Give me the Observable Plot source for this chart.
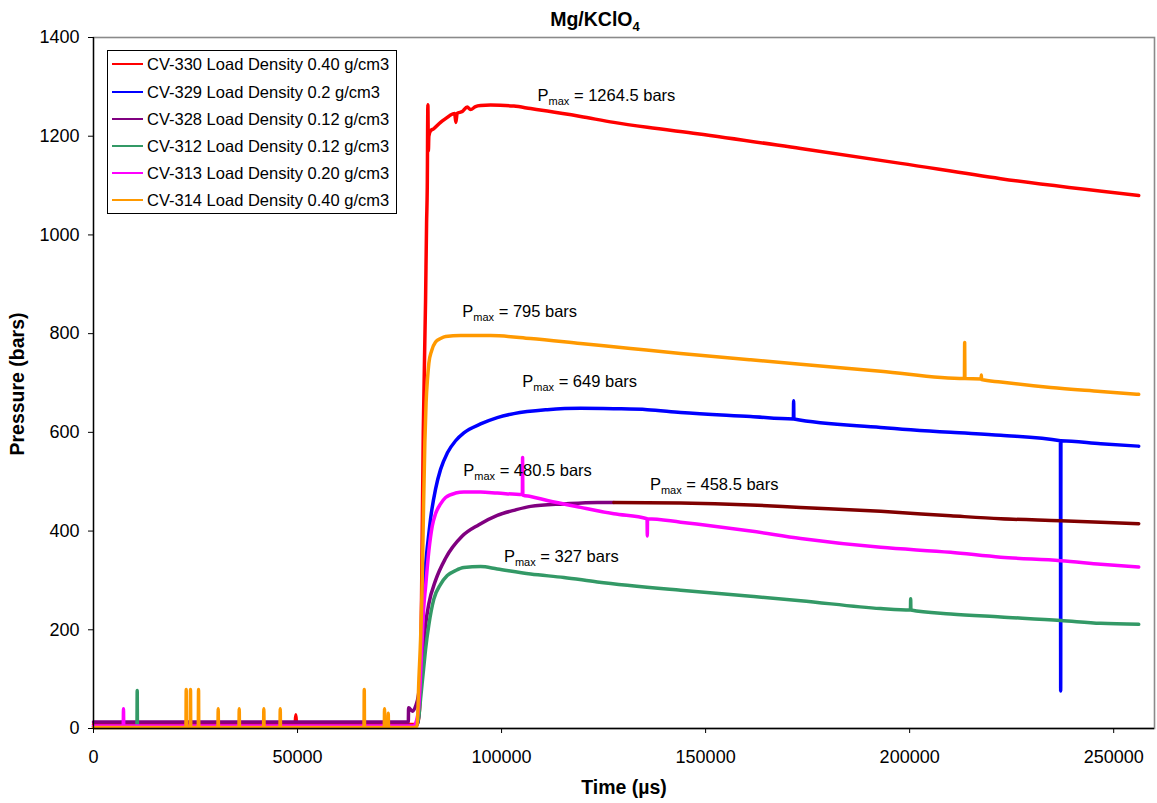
<!DOCTYPE html>
<html><head><meta charset="utf-8">
<script src="https://cdn.jsdelivr.net/npm/d3@7"></script>
<script src="https://cdn.jsdelivr.net/npm/@observablehq/plot@0.6"></script>
<style>
body{margin:0;background:#fff;font-family:"Liberation Sans",Arial,sans-serif;color:#000;}
#wrap{position:relative;width:1157px;height:803px;}
.ttl{position:absolute;font-weight:bold;font-size:19.5px;white-space:nowrap;line-height:1;}
#legend{position:absolute;left:107px;top:50px;width:290px;height:164px;border:1px solid #000;background:#fff;box-sizing:border-box;}
.row{position:absolute;left:0;height:20px;font-size:16.5px;line-height:20px;white-space:nowrap;}
.sw{position:absolute;left:4px;top:9px;width:31px;height:2px;}
.lbl{position:absolute;left:39px;top:0;}
</style></head>
<body>
<div id="wrap"></div>
<script>
const xTicks = [0, 50000, 100000, 150000, 200000, 250000];
const yTicks = [0, 200, 400, 600, 800, 1000, 1200, 1400];

const seriesNames = [
  "CV-330 Load Density 0.40 g/cm3",
  "CV-329 Load Density 0.2 g/cm3",
  "CV-328 Load Density 0.12 g/cm3",
  "CV-312 Load Density 0.12 g/cm3",
  "CV-313 Load Density 0.20 g/cm3",
  "CV-314 Load Density 0.40 g/cm3"
];
const seriesColors = ["#FF0000", "#0000FF", "#800080", "#339966", "#FF00FF", "#FF9900"];
const tailName = "CV-328 (continued)";
const tailColor = "#800000";

// [time (µs), pressure (bars)]
const cv330 = [[0,8],[49400,8],[49580,28],[49760,8],[79300,8],[79900,40],[80150,120],[80390,265],[80810,600],[81370,866],[81620,1023],[81790,1097],[81940,1264],[82060,1170],[82180,1200],[82600,1211],[83330,1215],[85050,1228],[86690,1238],[87500,1243],[88500,1246],[88800,1228],[89100,1246],[90370,1250],[91590,1259],[92400,1254],[93630,1260],[94850,1262],[97300,1263],[103010,1261],[107110,1256],[111200,1251],[119360,1240],[127510,1228],[135710,1218],[147970,1205],[173290,1175],[197800,1145],[222310,1114],[256130,1080]];
const cv329 = [[0,4],[78500,4],[79300,8],[79660,25],[80150,100],[80560,190],[80880,270],[81370,330],[82180,395],[82600,425],[83820,485],[85050,525],[86690,558],[88730,583],[90760,599],[94850,617],[98950,630],[103010,638],[111200,646],[119360,649],[127510,648],[135710,646],[143880,640],[161030,632],[171500,627],[171570,664],[171640,627],[192900,610],[210050,600],[222310,594],[236950,583],[237010,76],[237070,583],[246820,577],[256130,572]];
const cv328 = [[0,13],[77150,13],[77210,42],[78190,35],[78920,45],[79660,70],[80150,110],[80880,170],[81370,210],[82180,253],[83820,300],[86280,345],[90370,390],[94440,413],[98950,432],[103010,442],[107110,450],[115270,455],[123450,458],[127510,458]];
const cv328Tail = [[127510,458],[143880,457],[161030,453],[173290,448],[192900,440],[210050,431],[222310,425],[237010,421],[246820,418],[256130,415]];
const cv312 = [[0,3],[10650,3],[10710,77],[10770,3],[78500,3],[78920,5],[79660,20],[80150,60],[80880,120],[81370,160],[82180,210],[83400,262],[85050,292],[86690,310],[88730,320],[90760,326],[94850,328],[98950,323],[107110,313],[115270,306],[123450,297],[143880,280],[161030,268],[173290,259],[192900,243],[200190,240],[200250,263],[200310,240],[210050,232],[222310,226],[237010,219],[246820,213],[256130,211]];
const cv313 = [[0,5],[7290,5],[7350,40],[7410,5],[78500,5],[78920,10],[79660,40],[80150,110],[80560,185],[80880,240],[81370,286],[82180,360],[83010,410],[83820,435],[85050,455],[86280,468],[88730,477],[90760,479],[94850,479],[98950,477],[105090,474],[105150,549],[105210,473],[107110,470],[111200,462],[119360,448],[127510,435],[135650,425],[135710,390],[135770,425],[143880,418],[161030,400],[173290,385],[192900,367],[210050,357],[222310,347],[237010,340],[246820,333],[256130,327]];
const cv314 = [[0,2],[22660,2],[22720,79],[22780,2],[23710,2],[23770,79],[23830,2],[25680,2],[25740,79],[25800,2],[30500,2],[30560,40],[30620,2],[35650,2],[35710,40],[35770,2],[41680,2],[41740,40],[41800,2],[45700,2],[45760,40],[45820,2],[66290,2],[66350,79],[66410,2],[71260,2],[71320,40],[71380,2],[72170,2],[72230,31],[72290,2],[78500,2],[79300,5],[79740,100],[80150,180],[80560,300],[80880,450],[81200,580],[81500,660],[81860,710],[82180,740],[82840,765],[83820,783],[85050,790],[86280,794],[89950,796],[97300,796],[107110,790],[119360,780],[131600,770],[143880,760],[161030,747],[173290,738],[192900,724],[213420,709],[213480,782],[213540,709],[217510,708],[217570,716],[217630,707],[222310,702],[234560,691],[246820,683],[256130,677]];

const annoT = [108820, 90370, 105070, 90610, 136350, 100570];
const annoP = [1283, 844, 702, 523, 493, 348];
const annoLabels = ["Pmax = 1264.5 bars", "Pmax = 795 bars", "Pmax = 649 bars", "Pmax = 480.5 bars", "Pmax = 458.5 bars", "Pmax = 327 bars"];

const groups = [
  [seriesNames[0], cv330], [seriesNames[1], cv329], [seriesNames[2], cv328], [tailName, cv328Tail],
  [seriesNames[3], cv312], [seriesNames[4], cv313], [seriesNames[5], cv314]
];
const rows = groups.flatMap(([k, arr]) => arr.map(([t, p]) => ({k, t, p})));
const colorKeys = [...seriesNames, tailName];
const colorRange = [...seriesColors, tailColor];

const chart = Plot.plot({
  width: 1157, height: 803,
  marginLeft: 93, marginRight: 3, marginTop: 37, marginBottom: 75,
  style: {fontFamily: "'Liberation Sans', Arial, sans-serif", fontSize: "18px", color: "#000", background: "#fff", overflow: "visible"},
  x: {domain: [0, 260000]},
  y: {domain: [0, 1400]},
  color: {domain: colorKeys, range: colorRange},
  marks: [
    Plot.frame({stroke: "#8a8a8a", strokeWidth: 1.6}),
    Plot.line(rows, {x: "t", y: "p", z: "k", stroke: "k", strokeWidth: 3.5, strokeLinejoin: "round", curve: "monotone-x"}),
    Plot.text(annoLabels, {x: annoT, y: annoP, text: d => d, textAnchor: "start", fontSize: 16.5, fill: "#000"}),
    Plot.ruleX([0], {stroke: "#000", strokeWidth: 1.3}),
    Plot.ruleY([0], {stroke: "#000", strokeWidth: 1.3}),
    Plot.axisX({ticks: xTicks, tickSize: 5, tickPadding: 17, tickFormat: d => String(d), label: null}),
    Plot.axisY({ticks: yTicks, tickSize: 5, tickPadding: 9, tickFormat: d => String(d), label: null})
  ]
});

d3.select(chart).selectAll("text").filter(function() { return this.textContent.startsWith("Pmax"); }).each(function() {
  const rest = this.textContent.slice(4);
  const s = d3.select(this);
  s.text(null);
  s.append("tspan").text("P");
  s.append("tspan").attr("font-size", 11).attr("dy", 4).text("max");
  s.append("tspan").attr("dy", -4).text(rest);
});

const wrap = document.getElementById("wrap");
wrap.appendChild(chart);
chart.style.position = "absolute";
chart.style.left = "0px";
chart.style.top = "0px";

function addTitle(html, cx, cy, rot) {
  const d = document.createElement("div");
  d.className = "ttl";
  d.innerHTML = html;
  d.style.left = cx + "px";
  d.style.top = cy + "px";
  d.style.transform = "translate(-50%,-50%)" + (rot ? " rotate(" + rot + "deg)" : "");
  wrap.appendChild(d);
}
addTitle('Mg/KClO<span style="font-size:13px;position:relative;top:5px">4</span>', 595, 20);
addTitle('Time (&micro;s)', 624, 788);
addTitle('Pressure (bars)', 18, 384, -90);

const leg = document.createElement("div");
leg.id = "legend";
seriesNames.forEach((name, i) => {
  const r = document.createElement("div");
  r.className = "row";
  r.style.top = (3.3 + i * 27.2) + "px";
  r.style.width = "285px";
  const sw = document.createElement("div");
  sw.className = "sw";
  sw.style.background = seriesColors[i];
  const lb = document.createElement("div");
  lb.className = "lbl";
  lb.textContent = name;
  r.appendChild(sw); r.appendChild(lb);
  leg.appendChild(r);
});
wrap.appendChild(leg);
</script>
</body></html>
